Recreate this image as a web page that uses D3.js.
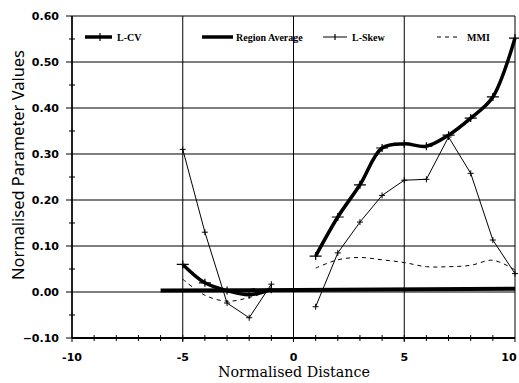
<!DOCTYPE html>
<html>
<head>
<meta charset="utf-8">
<script src="https://cdn.jsdelivr.net/npm/d3@7"></script>
<style>
  body { margin: 0; background: #fff; }
  text { fill: #000; }
</style>
</head>
<body>
<div id="chart"></div>
<script>
// Data
var lcvLeft = [[-5, 0.06], [-4, 0.02], [-3, 0.003], [-2, -0.006], [-1, 0.006]];
var lcvRight = [[1, 0.078], [2, 0.163], [3, 0.233], [4, 0.313], [5, 0.322], [6, 0.317], [7, 0.341], [8, 0.378], [9, 0.424], [10, 0.552]];
var skewLeft = [[-5, 0.31], [-4, 0.13], [-3, -0.024], [-2, -0.056], [-1, 0.017]];
var skewRight = [[1, -0.032], [2, 0.085], [3, 0.152], [4, 0.21], [5, 0.243], [6, 0.245], [7, 0.337], [8, 0.258], [9, 0.113], [10, 0.04]];
var mmiLeft = [[-5, 0.028], [-4, -0.007], [-3, -0.02], [-2, -0.012], [-1, 0.004]];
var mmiRight = [[1, 0.052], [2, 0.07], [3, 0.075], [4, 0.07], [5, 0.064], [6, 0.055], [7, 0.055], [8, 0.058], [9, 0.069], [10, 0.048]];
var regionAvg = [[-6, 0.003], [-2, 0.004], [2, 0.005], [6, 0.006], [10, 0.007]];

var yTicks = [-0.1, 0, 0.1, 0.2, 0.3, 0.4, 0.5, 0.6];
var xTicks = [-10, -5, 0, 5, 10];
var legendItems = ["L-CV", "Region Average", "L-Skew", "MMI"];

// Dimensions
var width = 519, height = 383;
var plotL = 72, plotR = 515, plotT = 16, plotB = 338;

var x = d3.scaleLinear().domain([-10, 10]).range([plotL, plotR]);
var y = d3.scaleLinear().domain([-0.1, 0.6]).range([plotB, plotT]);

var svg = d3.select('#chart').append('svg')
    .attr('width', width)
    .attr('height', height);

// Grid lines
svg.append('g').selectAll('line')
    .data(yTicks)
    .enter().append('line')
    .attr('x1', plotL - 6).attr('x2', plotR)
    .attr('y1', d => y(d)).attr('y2', d => y(d))
    .attr('stroke', '#000').attr('stroke-width', 1.2);

svg.append('g').selectAll('line')
    .data(xTicks)
    .enter().append('line')
    .attr('x1', d => x(d)).attr('x2', d => x(d))
    .attr('y1', plotT).attr('y2', plotB + 4)
    .attr('stroke', '#000').attr('stroke-width', 1);

// Minor ticks
svg.append('g').selectAll('line')
    .data(d3.range(-0.05, 0.6, 0.1))
    .enter().append('line')
    .attr('x1', plotL - 3).attr('x2', plotL + 3)
    .attr('y1', d => y(d)).attr('y2', d => y(d))
    .attr('stroke', '#000').attr('stroke-width', 1);

svg.append('g').selectAll('line')
    .data(d3.range(-9, 10, 1))
    .enter().append('line')
    .attr('x1', d => x(d)).attr('x2', d => x(d))
    .attr('y1', plotB - 3).attr('y2', plotB + 3)
    .attr('stroke', '#000').attr('stroke-width', 1);

// Frame
svg.append('line').attr('x1', plotL).attr('x2', plotL).attr('y1', plotT).attr('y2', plotB)
    .attr('stroke', '#000').attr('stroke-width', 1.5);
svg.append('line').attr('x1', plotL).attr('x2', plotR).attr('y1', plotB).attr('y2', plotB)
    .attr('stroke', '#000').attr('stroke-width', 2);

// Tick labels
svg.append('g').selectAll('text')
    .data(yTicks)
    .enter().append('text')
    .attr('x', plotL - 13).attr('y', d => y(d) + 4)
    .attr('text-anchor', 'end')
    .style('font', 'bold 11px "DejaVu Sans"')
    .text(d => d3.format('.2f')(d));

svg.append('g').selectAll('text')
    .data(xTicks)
    .enter().append('text')
    .attr('x', d => x(d) - (d == 10 ? 6 : 0)).attr('y', plotB + 23)
    .attr('text-anchor', 'middle')
    .style('font', 'bold 11px "DejaVu Sans"')
    .text(d => d);

// Axis titles
svg.append('text')
    .attr('x', 218).attr('y', 377)
    .attr('textLength', 152)
    .attr('lengthAdjust', 'spacingAndGlyphs')
    .style('font', '15px "DejaVu Serif"')
    .text('Normalised Distance');

svg.append('text')
    .attr('transform', 'translate(24,280) rotate(-90)')
    .attr('textLength', 230)
    .attr('lengthAdjust', 'spacingAndGlyphs')
    .style('font', '17px "Noto Sans"')
    .text('Normalised Parameter Values');

// Lines
var straight = d3.line().x(d => x(d[0])).y(d => y(d[1]));
var smooth = d3.line().x(d => x(d[0])).y(d => y(d[1])).curve(d3.curveCatmullRom);

svg.append('path').datum(regionAvg)
    .attr('d', straight).attr('fill', 'none')
    .attr('stroke', '#000').attr('stroke-width', 4);

[mmiLeft, mmiRight].forEach(function(s) {
    svg.append('path').datum(s)
        .attr('d', smooth).attr('fill', 'none')
        .attr('stroke', '#000').attr('stroke-width', 1)
        .attr('stroke-dasharray', '4,4');
});

[skewLeft, skewRight].forEach(function(s) {
    svg.append('path').datum(s)
        .attr('d', straight).attr('fill', 'none')
        .attr('stroke', '#000').attr('stroke-width', 1);
    svg.append('g').selectAll('path')
        .data(s)
        .enter().append('path')
        .attr('d', d => 'M' + (x(d[0]) - 3) + ',' + y(d[1]) + 'h6M' + x(d[0]) + ',' + (y(d[1]) - 3) + 'v6')
        .attr('stroke', '#000').attr('stroke-width', 1);
});

[lcvLeft, lcvRight].forEach(function(s) {
    svg.append('path').datum(s)
        .attr('d', smooth).attr('fill', 'none')
        .attr('stroke', '#000').attr('stroke-width', 3.5);
    svg.append('g').selectAll('path')
        .data(s)
        .enter().append('path')
        .attr('d', d => 'M' + (x(d[0]) - 6) + ',' + y(d[1]) + 'h12M' + x(d[0]) + ',' + (y(d[1]) - 4) + 'v8')
        .attr('stroke', '#000').attr('stroke-width', 1.2);
});

// Legend
var legendX = [85, 202, 323, 437];
var legendLen = [27, 31, 24, 20];
var legendTextX = [117, 236, 352, 467];
var legend = svg.append('g').selectAll('g')
    .data(legendItems)
    .enter().append('g');

legend.append('line')
    .attr('x1', (d, i) => legendX[i]).attr('x2', (d, i) => legendX[i] + legendLen[i])
    .attr('y1', 37).attr('y2', 37)
    .attr('stroke', '#000')
    .attr('stroke-width', (d, i) => i < 2 ? 3.5 : 1)
    .attr('stroke-dasharray', (d, i) => i == 3 ? '4,4' : null);

legend.filter((d, i) => i == 0 || i == 2).append('path')
    .attr('d', (d, i) => i == 0 ? 'M100,33v8' : 'M335,34v6')
    .attr('stroke', '#000').attr('stroke-width', 1.2);

legend.append('text')
    .attr('x', (d, i) => legendTextX[i]).attr('y', 41)
    .style('font', 'bold 10px "Liberation Serif"')
    .text(d => d);
</script>
</body>
</html>
